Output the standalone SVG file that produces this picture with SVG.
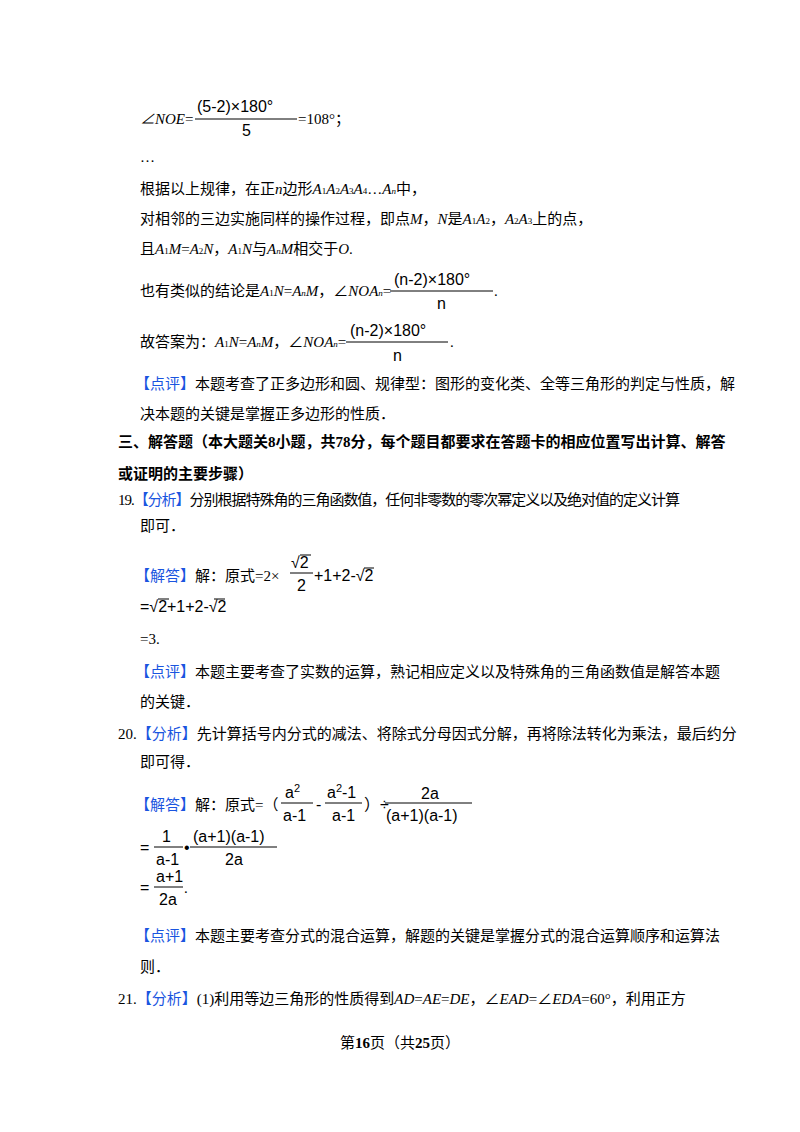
<svg xmlns="http://www.w3.org/2000/svg" width="800" height="1132" viewBox="0 0 800 1132">
<style>
text{font-family:"Liberation Serif","Noto Sans CJK SC",serif;font-size:15px;fill:#000}
.b{fill:#1a55e0}
.m{font-family:"Liberation Sans","Noto Sans CJK SC",sans-serif;font-size:16px}
.h{font-weight:bold}
line{stroke:#000;stroke-width:1}
</style>
<rect width="800" height="1132" fill="#fff"/>
<text x="140" y="124"><tspan font-style="italic">∠NOE</tspan>=</text>
<text class="m" x="197" y="112">(5-2)×180°</text><line x1="195" y1="119" x2="297" y2="119"/><text class="m" x="242" y="136">5</text>
<text x="298" y="124">=108°；</text>
<text x="140" y="162">…</text>
<text x="140" y="194">根据以上规律，在正<tspan font-style="italic">n</tspan>边形<tspan font-style="italic">A</tspan><tspan font-size="9">1</tspan><tspan font-style="italic">A</tspan><tspan font-size="9">2</tspan><tspan font-style="italic">A</tspan><tspan font-size="9">3</tspan><tspan font-style="italic">A</tspan><tspan font-size="9">4</tspan>…<tspan font-style="italic">A</tspan><tspan font-size="9" font-style="italic">n</tspan>中，</text>
<text x="140" y="224">对相邻的三边实施同样的操作过程，即点<tspan font-style="italic">M</tspan>，<tspan font-style="italic">N</tspan>是<tspan font-style="italic">A</tspan><tspan font-size="9">1</tspan><tspan font-style="italic">A</tspan><tspan font-size="9">2</tspan>，<tspan font-style="italic">A</tspan><tspan font-size="9">2</tspan><tspan font-style="italic">A</tspan><tspan font-size="9">3</tspan>上的点，</text>
<text x="140" y="254">且<tspan font-style="italic">A</tspan><tspan font-size="9">1</tspan><tspan font-style="italic">M</tspan>=<tspan font-style="italic">A</tspan><tspan font-size="9">2</tspan><tspan font-style="italic">N</tspan>，<tspan font-style="italic">A</tspan><tspan font-size="9">1</tspan><tspan font-style="italic">N</tspan>与<tspan font-style="italic">A</tspan><tspan font-size="9" font-style="italic">n</tspan><tspan font-style="italic">M</tspan>相交于<tspan font-style="italic">O</tspan>.</text>
<text x="140" y="296">也有类似的结论是<tspan font-style="italic">A</tspan><tspan font-size="9">1</tspan><tspan font-style="italic">N</tspan>=<tspan font-style="italic">A</tspan><tspan font-size="9" font-style="italic">n</tspan><tspan font-style="italic">M</tspan>，∠<tspan font-style="italic">NOA</tspan><tspan font-size="9" font-style="italic">n</tspan>=</text>
<text class="m" x="394" y="285">(n-2)×180°</text><line x1="390" y1="291" x2="493" y2="291"/><text class="m" x="437" y="309">n</text>
<text x="494" y="296">.</text>
<text x="140" y="347">故答案为：<tspan font-style="italic">A</tspan><tspan font-size="9">1</tspan><tspan font-style="italic">N</tspan>=<tspan font-style="italic">A</tspan><tspan font-size="9" font-style="italic">n</tspan><tspan font-style="italic">M</tspan>，∠<tspan font-style="italic">NOA</tspan><tspan font-size="9" font-style="italic">n</tspan>=</text>
<text class="m" x="350" y="336">(n-2)×180°</text><line x1="346" y1="342" x2="448" y2="342"/><text class="m" x="393" y="361">n</text>
<text x="450" y="347">.</text>
<text x="135" y="389"><tspan class="b">【点评】</tspan>本题考查了正多边形和圆、规律型：图形的变化类、全等三角形的判定与性质，解</text>
<text x="140" y="419">决本题的关键是掌握正多边形的性质．</text>
<text class="h" x="118" y="447">三、解答题（本大题关8小题，共78分，每个题目都要求在答题卡的相应位置写出计算、解答</text>
<text class="h" x="118" y="479">或证明的主要步骤）</text>
<text x="118" y="505" textLength="562" lengthAdjust="spacing">19.<tspan class="b">【分析】</tspan>分别根据特殊角的三角函数值，任何非零数的零次幂定义以及绝对值的定义计算</text>
<text x="140" y="531">即可．</text>
<text x="135" y="581"><tspan class="b">【解答】</tspan>解：原式=2×</text>
<text class="m" x="291" y="568">√2</text><line x1="300" y1="555" x2="311" y2="555"/><line x1="290" y1="573" x2="313" y2="573"/><text class="m" x="297" y="591">2</text>
<text class="m" x="314" y="581">+1+2-√2</text><line x1="364" y1="568" x2="374" y2="568"/>
<text class="m" x="140" y="612">=√2+1+2-√2</text><line x1="158" y1="599" x2="169" y2="599"/><line x1="214" y1="599" x2="225" y2="599"/>
<text x="140" y="644">=3.</text>
<text x="135" y="677"><tspan class="b">【点评】</tspan>本题主要考查了实数的运算，熟记相应定义以及特殊角的三角函数值是解答本题</text>
<text x="140" y="707">的关键．</text>
<text x="118" y="739">20.<tspan class="b">【分析】</tspan>先计算括号内分式的减法、将除式分母因式分解，再将除法转化为乘法，最后约分</text>
<text x="140" y="767">即可得．</text>
<text x="135" y="810"><tspan class="b">【解答】</tspan>解：原式=（</text>
<text class="m" x="285" y="798">a<tspan font-size="11" dy="-6">2</tspan></text><line x1="281" y1="803" x2="313" y2="803"/><text class="m" x="283" y="821">a-1</text>
<text class="m" x="316" y="810">-</text>
<text class="m" x="327" y="798">a<tspan font-size="11" dy="-6">2</tspan><tspan dy="6">-1</tspan></text><line x1="325" y1="803" x2="362" y2="803"/><text class="m" x="332" y="821">a-1</text>
<text class="m" x="364" y="810">）÷</text>
<text class="m" x="421" y="799">2a</text><line x1="385" y1="803" x2="472" y2="803"/><text class="m" x="386" y="821">(a+1)(a-1)</text>
<text class="m" x="140" y="853">=</text>
<text class="m" x="162" y="842">1</text><line x1="154" y1="847" x2="183" y2="847"/><text class="m" x="156" y="865">a-1</text>
<text class="m" x="184" y="853">•</text>
<text class="m" x="193" y="842">(a+1)(a-1)</text><line x1="190" y1="847" x2="277" y2="847"/><text class="m" x="225" y="865">2a</text>
<text class="m" x="140" y="893">=</text>
<text class="m" x="156" y="882">a+1</text><line x1="154" y1="887" x2="183" y2="887"/><text class="m" x="159" y="905">2a</text>
<text x="184" y="893">.</text>
<text x="135" y="941"><tspan class="b">【点评】</tspan>本题主要考查分式的混合运算，解题的关键是掌握分式的混合运算顺序和运算法</text>
<text x="140" y="972">则．</text>
<text x="118" y="1004">21.<tspan class="b">【分析】</tspan>(1)利用等边三角形的性质得到<tspan font-style="italic">AD</tspan>=<tspan font-style="italic">AE</tspan>=<tspan font-style="italic">DE</tspan>，∠<tspan font-style="italic">EAD</tspan>=∠<tspan font-style="italic">EDA</tspan>=60°，利用正方</text>
<text x="400" y="1048" text-anchor="middle" font-size="13">第<tspan font-weight="bold" font-size="15">16</tspan>页（共<tspan font-weight="bold" font-size="15">25</tspan>页）</text>
</svg>
